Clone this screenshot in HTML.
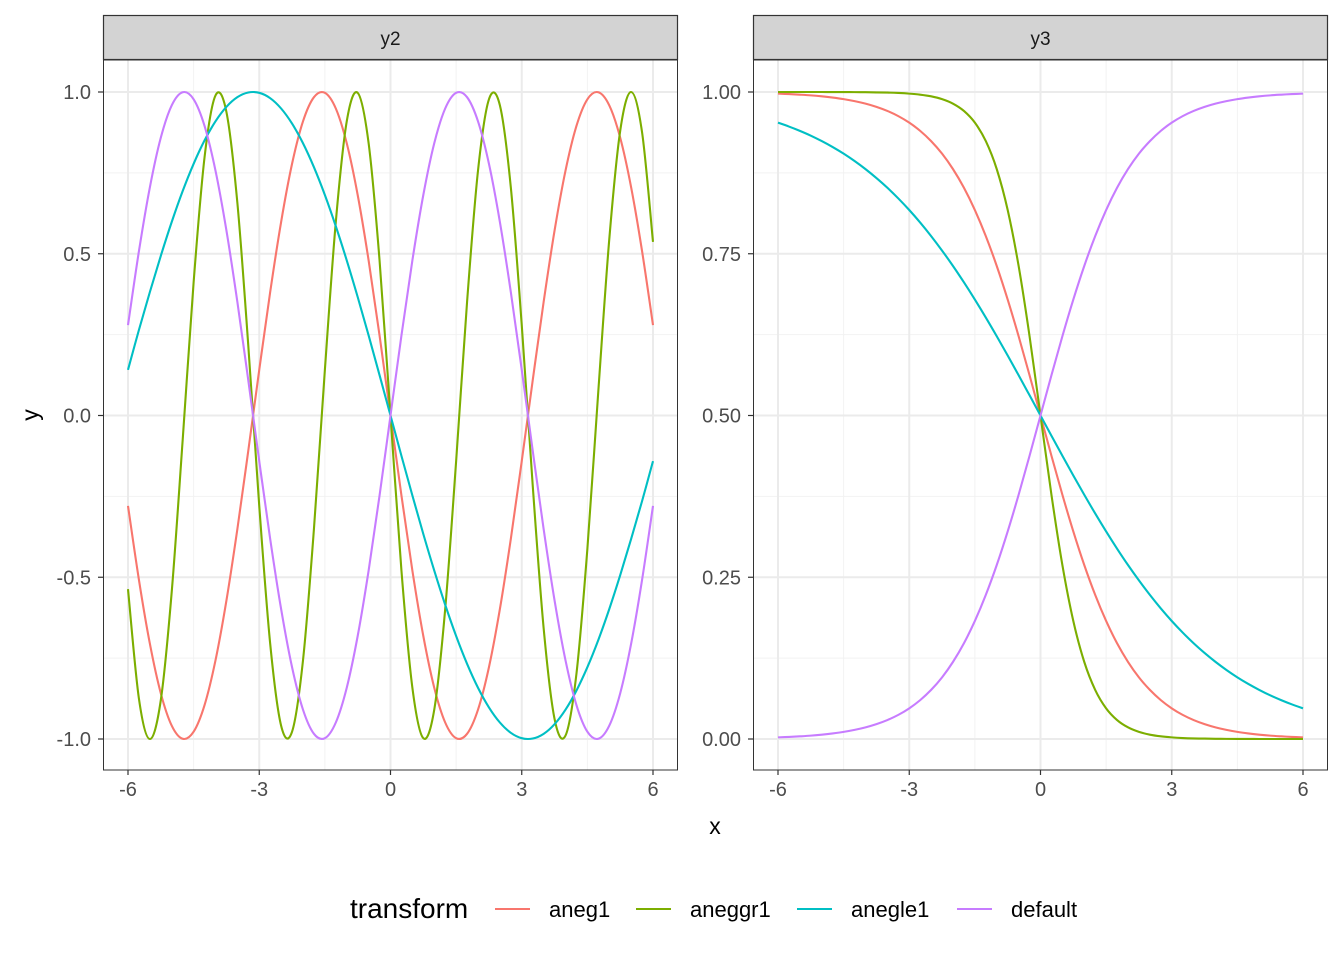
<!DOCTYPE html>
<html><head><meta charset="utf-8"><style>
body{margin:0;background:#fff;}
svg text{font-family:"Liberation Sans",Arial,sans-serif;}
</style></head><body>
<svg id="chart" width="1344" height="960" xmlns="http://www.w3.org/2000/svg"></svg>
<script>
const xValues=[-6,-5.75,-5.5,-5.25,-5,-4.75,-4.5,-4.25,-4,-3.75,-3.5,-3.25,-3,-2.75,-2.5,-2.25,-2,-1.75,-1.5,-1.25,-1,-0.75,-0.5,-0.25,0,0.25,0.5,0.75,1,1.25,1.5,1.75,2,2.25,2.5,2.75,3,3.25,3.5,3.75,4,4.25,4.5,4.75,5,5.25,5.5,5.75,6];
const y2Default=[.2794,.5082,.7055,.8589,.9589,.9993,.9775,.8950,.7568,.5716,.3508,.1082,-.1411,-.3817,-.5985,-.7781,-.9093,-.9840,-.9975,-.9490,-.8415,-.6816,-.4794,-.2474,0,.2474,.4794,.6816,.8415,.9490,.9975,.9840,.9093,.7781,.5985,.3817,.1411,-.1082,-.3508,-.5716,-.7568,-.8950,-.9775,-.9993,-.9589,-.8589,-.7055,-.5082,-.2794];
const y2Aneg1=[-.2794,-.5082,-.7055,-.8589,-.9589,-.9993,-.9775,-.8950,-.7568,-.5716,-.3508,-.1082,.1411,.3817,.5985,.7781,.9093,.9840,.9975,.9490,.8415,.6816,.4794,.2474,0,-.2474,-.4794,-.6816,-.8415,-.9490,-.9975,-.9840,-.9093,-.7781,-.5985,-.3817,-.1411,.1082,.3508,.5716,.7568,.8950,.9775,.9993,.9589,.8589,.7055,.5082,.2794];
const y2Aneggr1=[-.5366,-.8755,-1.0000,-.8797,-.5440,-.0752,.4121,.7985,.9894,.9380,.6570,.2151,-.2794,-.7055,-.9589,-.9775,-.7568,-.3508,.1411,.5985,.9093,.9975,.8415,.4794,0,-.4794,-.8415,-.9975,-.9093,-.5985,-.1411,.3508,.7568,.9775,.9589,.7055,.2794,-.2151,-.6570,-.9380,-.9894,-.7985,-.4121,.0752,.5440,.8797,1.0000,.8755,.5366];
const y2Anegle1=[.1411,.2647,.3817,.4937,.5985,.6939,.7781,.8504,.9093,.9541,.9840,.9985,.9975,.9809,.9490,.9023,.8415,.7675,.6816,.5850,.4794,.3663,.2474,.1247,0,-.1247,-.2474,-.3663,-.4794,-.5850,-.6816,-.7675,-.8415,-.9023,-.9490,-.9809,-.9975,-.9985,-.9840,-.9541,-.9093,-.8504,-.7781,-.6939,-.5985,-.4937,-.3817,-.2647,-.1411];
const y3Default=[.0025,.0032,.0041,.0052,.0067,.0086,.0110,.0141,.0180,.0230,.0293,.0373,.0474,.0601,.0759,.0953,.1192,.1480,.1824,.2227,.2689,.3208,.3775,.4378,.5,.5622,.6225,.6792,.7311,.7773,.8176,.8520,.8808,.9047,.9241,.9399,.9526,.9627,.9707,.9770,.9820,.9859,.9890,.9914,.9933,.9948,.9959,.9968,.9975];
const y3Aneg1=[.9975,.9968,.9959,.9948,.9933,.9914,.9890,.9859,.9820,.9770,.9707,.9627,.9526,.9399,.9241,.9047,.8808,.8520,.8176,.7773,.7311,.6792,.6225,.5622,.5,.4378,.3775,.3208,.2689,.2227,.1824,.1480,.1192,.0953,.0759,.0601,.0474,.0373,.0293,.0230,.0180,.0141,.0110,.0086,.0067,.0052,.0041,.0032,.0025];
const y3Aneggr1=[1,1,1,1,1,.9999,.9999,.9998,.9997,.9994,.9991,.9985,.9975,.9959,.9933,.9890,.9820,.9707,.9526,.9241,.8808,.8176,.7311,.6225,.5,.3775,.2689,.1824,.1192,.0759,.0474,.0293,.0180,.0110,.0067,.0041,.0025,.0015,.0009,.0006,.0003,.0002,.0001,.0001,0,0,0,0,0];
const y3Anegle1=[.9526,.9466,.9399,.9325,.9241,.9149,.9047,.8933,.8808,.8670,.8520,.8355,.8176,.7982,.7773,.7549,.7311,.7058,.6792,.6514,.6225,.5927,.5622,.5312,.5,.4688,.4378,.4073,.3775,.3486,.3208,.2942,.2689,.2451,.2227,.2018,.1824,.1645,.1480,.1330,.1192,.1067,.0953,.0851,.0759,.0675,.0601,.0534,.0474];
const seriesNames=["aneg1","aneggr1","anegle1","default"];
const xTicks=[-6,-3,0,3,6];
const xTickLabels=["-6","-3","0","3","6"];
const y2Ticks=[-1,-0.5,0,0.5,1];
const y2TickLabels=["-1.0","-0.5","0.0","0.5","1.0"];
const y3Ticks=[0,0.25,0.5,0.75,1];
const y3TickLabels=["0.00","0.25","0.50","0.75","1.00"];

const colors=["#F8766D","#7CAE00","#00BFC4","#C77CFF"];
const svg=document.getElementById('chart');
const NS="http://www.w3.org/2000/svg";
function mk(tag,attrs,parent){const e=document.createElementNS(NS,tag);for(const k in attrs)e.setAttribute(k,attrs[k]);(parent||svg).appendChild(e);return e;}
function pathD(pts){let d="M"+pts[0][0]+","+pts[0][1];for(let i=0;i<pts.length-1;i++){const p0=pts[Math.max(0,i-1)],p1=pts[i],p2=pts[i+1],p3=pts[Math.min(pts.length-1,i+2)];const c1x=p1[0]+(p2[0]-p0[0])/6,c1y=p1[1]+(p2[1]-p0[1])/6,c2x=p2[0]-(p3[0]-p1[0])/6,c2y=p2[1]-(p3[1]-p1[1])/6;d+=` C${c1x.toFixed(2)},${c1y.toFixed(2)} ${c2x.toFixed(2)},${c2y.toFixed(2)} ${p2[0].toFixed(2)},${p2[1].toFixed(2)}`;}return d;}

const panels=[
 {name:"y2",left:103,right:678,ymin:-1,ymax:1,ticks:y2Ticks,labels:y2TickLabels,series:[y2Aneg1,y2Aneggr1,y2Anegle1,y2Default]},
 {name:"y3",left:753,right:1328,ymin:0,ymax:1,ticks:y3Ticks,labels:y3TickLabels,series:[y3Aneg1,y3Aneggr1,y3Anegle1,y3Default]}
];
const panelTop=60,panelBottom=770;
panels.forEach(p=>{
  const w=p.right-p.left;
  const xs=v=>p.left+25+(v+6)/12*(w-50);
  const ys=v=>739-(v-p.ymin)/(p.ymax-p.ymin)*647;
  const g=mk('g',{});
  
  
  mk('rect',{x:p.left,y:panelTop,width:w,height:panelBottom-panelTop,fill:'#fff'},g);
  for(let i=0;i<xTicks.length-1;i++){const v=(xTicks[i]+xTicks[i+1])/2;mk('line',{x1:xs(v),x2:xs(v),y1:panelTop,y2:panelBottom,stroke:'#F2F2F2','stroke-width':1},g);}
  for(let i=0;i<p.ticks.length-1;i++){const v=(p.ticks[i]+p.ticks[i+1])/2;mk('line',{x1:p.left,x2:p.right,y1:ys(v),y2:ys(v),stroke:'#F2F2F2','stroke-width':1},g);}
  xTicks.forEach((v,i)=>{mk('line',{x1:xs(v),x2:xs(v),y1:panelTop,y2:panelBottom,stroke:'#EBEBEB','stroke-width':2},g);
    mk('line',{x1:xs(v),x2:xs(v),y1:panelBottom,y2:panelBottom+5,stroke:'#333','stroke-width':1.2},g);
    const t=mk('text',{x:xs(v),y:panelBottom+26,'text-anchor':'middle','font-size':20,fill:'#4D4D4D'},g);t.textContent=xTickLabels[i];
    
    });
  p.ticks.forEach((v,i)=>{mk('line',{x1:p.left,x2:p.right,y1:ys(v),y2:ys(v),stroke:'#EBEBEB','stroke-width':2},g);
    mk('line',{x1:p.left-5,x2:p.left,y1:ys(v),y2:ys(v),stroke:'#333','stroke-width':1.2},g);
    const t=mk('text',{x:p.left-12,y:ys(v)+7,'text-anchor':'end','font-size':20,fill:'#4D4D4D'},g);t.textContent=p.labels[i];
    
    });
  p.series.forEach((s,k)=>{const pts=xValues.map((x,i)=>[xs(x),ys(s[i])]);
    const e=mk('path',{d:pathD(pts),fill:'none',stroke:colors[k],'stroke-width':2.1},g);
    
    });
  mk('rect',{x:p.left+0.5,y:panelTop,width:w-1,height:panelBottom-panelTop,fill:'none',stroke:'#333','stroke-width':1},g);
  const st=mk('rect',{x:p.left+0.5,y:15.5,width:w-1,height:44,fill:'#D3D3D3',stroke:'#333','stroke-width':1.2},g);
  
  
  const tt=mk('text',{x:p.left+w/2,y:45,'text-anchor':'middle','font-size':19,fill:'#1A1A1A'},g);tt.textContent=p.name;
  
  
});
const xl=mk('text',{x:715,y:834,'text-anchor':'middle','font-size':23,fill:'#000'});xl.textContent='x';


const yl=mk('text',{x:0,y:0,'text-anchor':'middle','font-size':23,fill:'#000',transform:'translate(38,415) rotate(-90)'});yl.textContent='y';


const lt=mk('text',{x:350,y:918,'font-size':28,fill:'#000'});lt.textContent='transform';


const keyX=[495,636,797,957];
seriesNames.forEach((n,k)=>{const g=mk('g',{});
  
  
  mk('line',{x1:keyX[k],x2:keyX[k]+35,y1:909,y2:909,stroke:colors[k],'stroke-width':2.1},g);
  const t=mk('text',{x:keyX[k]+54,y:917,'font-size':22,fill:'#000'},g);t.textContent=n;});
</script>
</body></html>
